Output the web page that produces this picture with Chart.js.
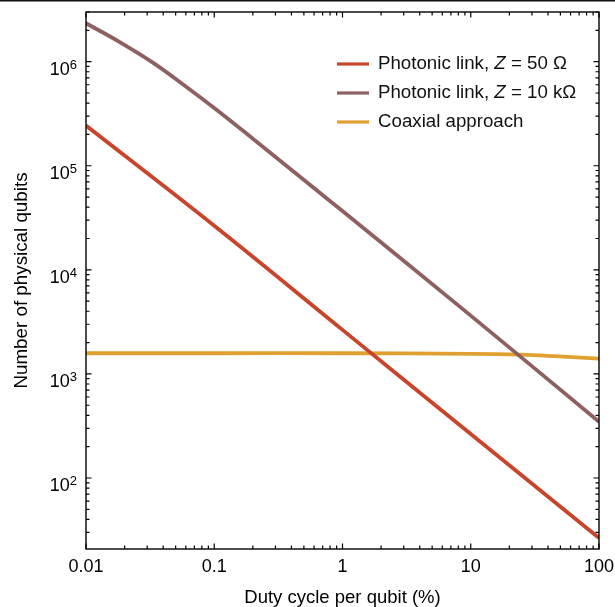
<!DOCTYPE html>
<html><head><meta charset="utf-8">
<script src="https://cdn.jsdelivr.net/npm/chart.js@4"></script>
<style>html,body{margin:0;padding:0;background:#fff;overflow:hidden}#wrap{width:615px;height:607px;position:relative}</style>
</head><body><div id="wrap"><canvas id="c"></canvas></div>
<script>
// ---- data ----
const dutyRed = [0.01, 0.1, 1, 10, 100];
const qubitsRed = [2.43e5, 2.65e4, 2.65e3, 265, 26.5];
const dutyBrown = [0.01, 0.0182, 0.0332, 0.0604, 0.1, 0.2, 0.365, 0.665, 1, 10, 100];
const qubitsBrown = [2.34e6, 1.55e6, 9.8e5, 5.75e5, 3.59e5, 1.82e5, 1.0e5, 5.5e4, 3.67e4, 3.63e3, 347];
const dutyCoax = [0.01, 0.1, 1, 10, 24.5, 45, 100];
const qubitsCoax = [1.58e3, 1.58e3, 1.58e3, 1.56e3, 1.53e3, 1.48e3, 1.40e3];
const seriesNames = ["Photonic link, Z = 50 Ω", "Photonic link, Z = 10 kΩ", "Coaxial approach"];
const seriesColors = ["#C8452B", "#8E6060", "#E1A032"];
const xTicks = [0.01, 0.1, 1, 10, 100];
const xTickLabels = ["0.01", "0.1", "1", "10", "100"];
const yTicks = [1e2, 1e3, 1e4, 1e5, 1e6];
const yTickBase = ["10", "10", "10", "10", "10"];
const yTickExp = ["2", "3", "4", "5", "6"];
const xTitle = "Duty cycle per qubit (%)";
const yTitle = "Number of physical qubits";

const FONT = "'Liberation Sans', Arial, Helvetica, sans-serif";

function pts(xs, ys) { return xs.map((x, i) => ({ x: x, y: ys[i] })); }

const framePlugin = {
  id: 'frame',
  afterDraw(chart) {
    const ctx = chart.ctx, a = chart.chartArea;
    const xs = chart.scales.x, ys = chart.scales.y;
    ctx.save();
    ctx.fillStyle = '#111';
    ctx.fillRect(0, 0, chart.width, 1.5);
    ctx.strokeStyle = '#000';
    ctx.lineWidth = 1.4;
    ctx.strokeRect(a.left, a.top, a.right - a.left, a.bottom - a.top);
    ctx.lineWidth = 1.2;
    ctx.beginPath();
    for (let e = -2; e <= 2; e++) {
      for (let m = 1; m <= 9; m++) {
        const v = m * Math.pow(10, e);
        if (v > 100 + 1e-9) continue;
        const px = xs.getPixelForValue(v);
        const len = m === 1 ? 5.5 : 3.5;
        ctx.moveTo(px, a.bottom); ctx.lineTo(px, a.bottom - len);
        ctx.moveTo(px, a.top); ctx.lineTo(px, a.top + len);
      }
    }
    for (let e = 1; e <= 6; e++) {
      for (let m = 1; m <= 9; m++) {
        const v = m * Math.pow(10, e);
        if (v < ys.min || v > ys.max) continue;
        const py = ys.getPixelForValue(v);
        const len = m === 1 ? 5.5 : 3.5;
        ctx.moveTo(a.left, py); ctx.lineTo(a.left + len, py);
        ctx.moveTo(a.right, py); ctx.lineTo(a.right - len, py);
      }
    }
    ctx.stroke();
    ctx.fillStyle = '#000';
    ctx.textBaseline = 'alphabetic';
    yTicks.forEach((v, i) => {
      const py = ys.getPixelForValue(v);
      ctx.font = '13px ' + FONT;
      const ew = ctx.measureText(yTickExp[i]).width;
      const right = a.left - 9;
      ctx.textAlign = 'left';
      ctx.fillText(yTickExp[i], right - ew, py + 7);
      ctx.font = '18px ' + FONT;
      ctx.textAlign = 'right';
      ctx.fillText(yTickBase[i], right - ew, py + 13);
    });
    const rows = [64, 93, 122];
    chart.data.datasets.forEach((ds, i) => {
      const y = rows[i];
      ctx.strokeStyle = ds.borderColor;
      ctx.lineWidth = 3.2;
      ctx.beginPath();
      ctx.moveTo(337, y); ctx.lineTo(369, y);
      ctx.stroke();
      ctx.fillStyle = '#111';
      ctx.textAlign = 'left';
      ctx.textBaseline = 'middle';
      const parts = ds.label.split('Z');
      let x = 378;
      parts.forEach((p, k) => {
        ctx.font = '18.7px ' + FONT;
        ctx.fillText(p, x, y);
        x += ctx.measureText(p).width;
        if (k < parts.length - 1) {
          ctx.font = 'italic 18.7px ' + FONT;
          ctx.fillText('Z', x, y);
          x += ctx.measureText('Z').width;
        }
      });
    });
    ctx.restore();
  }
};

new Chart(document.getElementById('c'), {
  type: 'scatter',
  data: {
    datasets: [
      { label: seriesNames[0], data: pts(dutyRed, qubitsRed), borderColor: seriesColors[0] },
      { label: seriesNames[1], data: pts(dutyBrown, qubitsBrown), borderColor: seriesColors[1] },
      { label: seriesNames[2], data: pts(dutyCoax, qubitsCoax), borderColor: seriesColors[2] }
    ].map(d => Object.assign(d, { showLine: true, pointRadius: 0, borderWidth: 3.8, tension: 0.4, fill: false }))
  },
  options: {
    responsive: true,
    maintainAspectRatio: false,
    animation: false,
    layout: { padding: { top: 12, right: 16, left: 0, bottom: 0 } },
    plugins: { legend: { display: false }, tooltip: { enabled: false } },
    scales: {
      x: {
        type: 'logarithmic', min: 0.01, max: 100,
        grid: { display: false, drawTicks: false },
        border: { display: false },
        afterBuildTicks(s) { s.ticks = xTicks.map(v => ({ value: v })); },
        afterFit(s) { s.height = 58; s.paddingLeft = 0; s.paddingRight = 0; },
        ticks: {
          padding: 7, color: '#000', maxRotation: 0, autoSkip: false,
          font: { family: FONT, size: 18 },
          callback(v) { const i = xTicks.findIndex(t => Math.abs(t - v) / t < 1e-6); return i >= 0 ? xTickLabels[i] : ''; }
        },
        title: { display: true, text: xTitle, color: '#000', font: { family: FONT, size: 18.5 }, padding: { top: 0, bottom: -2 } }
      },
      y: {
        type: 'logarithmic', min: 20.8, max: 3.0e6,
        grid: { display: false, drawTicks: false },
        border: { display: false },
        afterBuildTicks(s) { s.ticks = yTicks.map(v => ({ value: v })); },
        afterFit(s) { s.width = 86; },
        ticks: { display: false },
        title: { display: true, text: yTitle, color: '#000', font: { family: FONT, size: 18.8 }, padding: { top: 11, bottom: 0 } }
      }
    }
  },
  plugins: [framePlugin]
});
</script>
</body></html>
